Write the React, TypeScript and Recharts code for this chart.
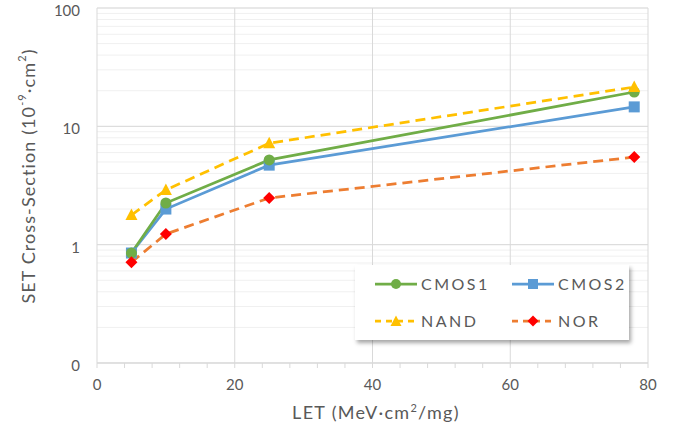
import React from "react";
import { LineChart, Line, XAxis, YAxis, CartesianGrid, ReferenceLine, Legend } from "recharts";

const letValues = [5, 10, 25, 78];
const cmos1 = [0.85, 2.25, 5.2, 19.5];
const cmos2 = [0.85, 2.0, 4.7, 14.6];
const nand = [1.78, 2.9, 7.2, 21.5];
const nor = [0.71, 1.23, 2.48, 5.5];

const xTicks = [0, 4, 8, 12, 16, 20, 24, 28, 32, 36, 40, 44, 48, 52, 56, 60, 64, 68, 72, 76, 80];
const xMajor = [20, 40, 60, 80];
const yMajor = [0.1, 1, 10, 100];
const yTicks = [0.1, 0.2, 0.3, 0.4, 0.5, 0.6, 0.7, 0.8, 0.9, 1, 2, 3, 4, 5, 6, 7, 8, 9, 10, 20, 30, 40, 50, 60, 70, 80, 90, 100];

const data = letValues.map((x, i) => ({ x, cmos1: cmos1[i], cmos2: cmos2[i], nand: nand[i], nor: nor[i] }));

const FONT = "Lato, 'Liberation Sans', sans-serif";
const TXT = "#595959";
const GREEN = "#70AD47";
const BLUE = "#5B9BD5";
const YELLOW = "#FFC000";
const ORANGE = "#ED7D31";
const RED = "#FF0000";

const CircleDot = (p: any) => <circle key={p.index} cx={p.cx} cy={p.cy} r={5.5} fill={GREEN} />;
const SquareDot = (p: any) => <rect key={p.index} x={p.cx - 5.5} y={p.cy - 5.5} width={11} height={11} fill={BLUE} />;
const TriDot = (p: any) => (
  <path key={p.index} d={`M${p.cx},${p.cy - 6.5} L${p.cx + 6},${p.cy + 5} L${p.cx - 6},${p.cy + 5} Z`} fill={YELLOW} />
);
const DiaDot = (p: any) => (
  <path key={p.index} d={`M${p.cx},${p.cy - 6} L${p.cx + 6},${p.cy} L${p.cx},${p.cy + 6} L${p.cx - 6},${p.cy} Z`} fill={RED} />
);

const YTick = (props: any) => {
  const { x, y, payload } = props;
  const v = payload.value;
  const label = v === 0.1 ? "0" : yMajor.includes(v) ? String(v) : "";
  if (!label) return null;
  return (
    <text x={x} y={y + 2} textAnchor="end" dominantBaseline="central" fill={TXT} fontSize={15} fontFamily={FONT}>
      {label}
    </text>
  );
};

const YTitle = () => {
  const cy = 176;
  const cx = 28;
  return (
    <text x={cx} y={cy} transform={`rotate(-90, ${cx}, ${cy})`} textAnchor="middle" dominantBaseline="central" fill={TXT} fontSize={18} letterSpacing={1.1} fontFamily={FONT}>
      SET Cross-Section (10
      <tspan dy={-7} fontSize={11}>-9</tspan>
      <tspan dy={7}>·cm</tspan>
      <tspan dy={-7} fontSize={11}>2</tspan>
      <tspan dy={7}>)</tspan>
    </text>
  );
};

const XTitle = () => (
  <text x={376} y={419} textAnchor="middle" fill={TXT} fontSize={18} letterSpacing={1.3} fontFamily={FONT}>
    LET (MeV·cm
    <tspan dy={-7} fontSize={11}>2</tspan>
    <tspan dy={7}>/mg)</tspan>
  </text>
);

const LegendIcon = ({ color, dashed, shape }: any) => (
  <svg width={42} height={12} style={{ display: "block" }}>
    <line x1={0} y1={6} x2={42} y2={6} stroke={color} strokeWidth={2.75} strokeDasharray={dashed ? "6 5" : undefined} />
    {shape === "circle" && <circle cx={21} cy={6} r={5} fill={GREEN} />}
    {shape === "square" && <rect x={16} y={1} width={10} height={10} fill={BLUE} />}
    {shape === "tri" && <path d="M21,0.5 L26.5,11 L15.5,11 Z" fill={YELLOW} />}
    {shape === "dia" && <path d="M21,0.5 L26.5,6 L21,11.5 L15.5,6 Z" fill={RED} />}
  </svg>
);

const legendItems = [
  { name: "CMOS1", color: GREEN, dashed: false, shape: "circle" },
  { name: "CMOS2", color: BLUE, dashed: false, shape: "square" },
  { name: "NAND", color: YELLOW, dashed: true, shape: "tri" },
  { name: "NOR", color: ORANGE, dashed: true, shape: "dia" },
];

const LegendBox = () => (
  <div
    style={{
      width: 274,
      height: 75,
      background: "#fff",
      boxShadow: "2px 3px 4px rgba(0,0,0,0.35)",
      boxSizing: "border-box",
      display: "grid",
      gridTemplateColumns: "137px 137px",
      gridTemplateRows: "37px 37px",
      fontFamily: FONT,
      fontSize: 16,
      letterSpacing: 2.5,
      color: TXT,
    }}
  >
    {legendItems.map((it) => (
      <div key={it.name} style={{ display: "flex", alignItems: "center", paddingLeft: 20 }}>
        <LegendIcon color={it.color} dashed={it.dashed} shape={it.shape} />
        <span style={{ marginLeft: 4 }}>{it.name}</span>
      </div>
    ))}
  </div>
);

export default function App() {
  return (
    <div style={{ position: "absolute", left: 0, top: 0 }}>
      <LineChart width={681} height={432} data={data} margin={{ top: 8, right: 33, bottom: 0, left: 0 }}>
        <CartesianGrid vertical={false} stroke="#F0F0F0" strokeWidth={1} />
        {xMajor.map((v) => (
          <ReferenceLine key={"x" + v} x={v} stroke="#D9D9D9" strokeWidth={1} />
        ))}
        {yMajor.map((v) => (
          <ReferenceLine key={"y" + v} y={v} stroke="#D9D9D9" strokeWidth={1} />
        ))}
        <XAxis
          dataKey="x"
          type="number"
          domain={[0, 80]}
          ticks={xTicks}
          interval={0}
          height={69}
          tickFormatter={(v: number) => (v % 20 === 0 ? String(v) : "")}
          stroke="#D9D9D9"
          tickLine={{ stroke: "#D9D9D9" }}
          tickSize={5}
          tickMargin={11}
          tick={{ fill: TXT, fontSize: 15, fontFamily: FONT }}
          label={<XTitle />}
        />
        <YAxis
          type="number"
          scale="log"
          domain={[0.1, 100]}
          ticks={yTicks}
          interval={0}
          allowDataOverflow
          width={97}
          stroke="#D9D9D9"
          tickLine={false}
          tickSize={0}
          tickMargin={17}
          tick={<YTick />}
          label={<YTitle />}
        />
        <Legend
          layout="horizontal"
          verticalAlign="middle"
          align="center"
          wrapperStyle={{ left: 355, top: 265, width: 274, height: 75 }}
          content={() => <LegendBox />}
        />
        <Line dataKey="cmos2" stroke={BLUE} strokeWidth={2.75} dot={SquareDot} isAnimationActive={false} />
        <Line dataKey="cmos1" stroke={GREEN} strokeWidth={2.75} dot={CircleDot} isAnimationActive={false} />
        <Line dataKey="nor" stroke={ORANGE} strokeWidth={2.75} strokeDasharray="10 6" dot={DiaDot} isAnimationActive={false} />
        <Line dataKey="nand" stroke={YELLOW} strokeWidth={2.75} strokeDasharray="10 6" dot={TriDot} isAnimationActive={false} />
      </LineChart>
    </div>
  );
}
